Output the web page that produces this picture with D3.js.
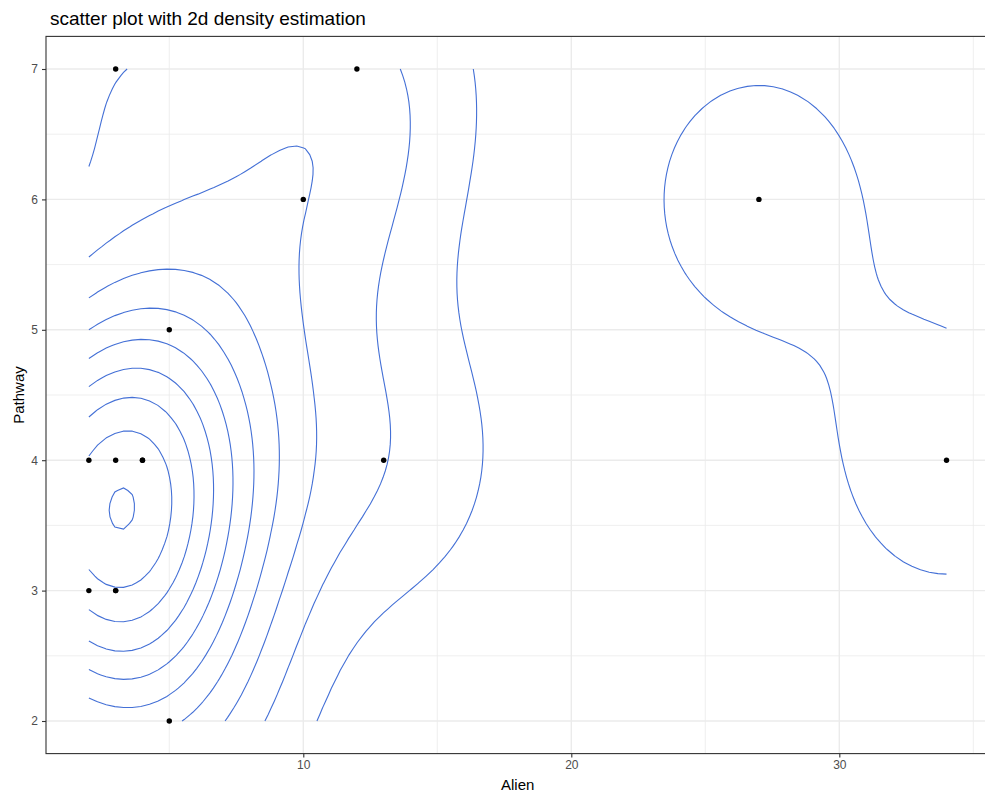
<!DOCTYPE html>
<html>
<head>
<meta charset="utf-8">
<script src="https://cdn.jsdelivr.net/npm/d3@7"></script>
<style>
  body { margin: 0; background: #fff; }
  svg { display: block; font-family: "Liberation Sans", Arial, sans-serif; }
</style>
</head>
<body>
<div id="chart"></div>
<script>
// data points (Alien, Pathway); (4,4) and (3,3) are overplotted twice
var alien   = [2, 3, 4, 4, 2, 3, 3, 5, 5, 3, 12, 10, 13, 27, 34];
var pathway = [4, 4, 4, 4, 3, 3, 3, 5, 2, 7, 7, 6, 4, 6, 4];

var xTicks = [10, 20, 30];
var xMinor = [5, 15, 25, 35];
var yTicks = [2, 3, 4, 5, 6, 7];
var yMinor = [2.5, 3.5, 4.5, 5.5, 6.5];

var W = 985, H = 796;
var panel = { left: 46, right: 989.4, top: 36.4, bottom: 753.6 };

var x = d3.scaleLinear().domain([0.4, 35.6]).range([panel.left, panel.right]);
var y = d3.scaleLinear().domain([1.75, 7.25]).range([panel.bottom, panel.top]);

// ---- 2d kernel density like MASS::kde2d ----
function quantile7(arr, p) {
  var s = arr.slice().sort(function(a, b) { return a - b; });
  var h = (s.length - 1) * p, lo = Math.floor(h);
  return s[lo] + (h - lo) * ((s[lo + 1] !== undefined ? s[lo + 1] : s[lo]) - s[lo]);
}
function bandwidthNrd(v) {
  var r = (quantile7(v, 0.75) - quantile7(v, 0.25)) / 1.34;
  return 4 * 1.06 * Math.min(d3.deviation(v), r) * Math.pow(v.length, -0.2);
}
function dnorm(u) { return Math.exp(-0.5 * u * u) / Math.sqrt(2 * Math.PI); }

var n = 100;
var xr = d3.extent(alien), yr = d3.extent(pathway);
var hx = bandwidthNrd(alien) / 4, hy = bandwidthNrd(pathway) / 4;
var gx = d3.range(n).map(function(i) { return xr[0] + i * (xr[1] - xr[0]) / (n - 1); });
var gy = d3.range(n).map(function(j) { return yr[0] + j * (yr[1] - yr[0]) / (n - 1); });

var dens = new Array(n * n);
for (var j = 0; j < n; j++) {
  for (var i = 0; i < n; i++) {
    var s = 0;
    for (var k = 0; k < alien.length; k++) {
      s += dnorm((gx[i] - alien[k]) / hx) * dnorm((gy[j] - pathway[k]) / hy);
    }
    dens[j * n + i] = s / (alien.length * hx * hy);
  }
}

// R's pretty()
function pretty(lo, hi, ndiv) {
  var h = 1.5, h5 = 0.5 + 1.5 * h;
  var cell = (hi - lo) / ndiv;
  var U = Math.pow(10, Math.floor(Math.log10(cell)));
  var unit = U;
  if (2 * U - cell < h * (cell - unit)) {
    unit = 2 * U;
    if (5 * U - cell < h5 * (cell - unit)) {
      unit = 5 * U;
      if (10 * U - cell < h * (cell - unit)) unit = 10 * U;
    }
  }
  var ns = Math.floor(lo / unit + 1e-7), nu = Math.ceil(hi / unit - 1e-7);
  var out = [];
  for (var q = ns; q <= nu; q++) out.push(q * unit);
  return out;
}

var zr = d3.extent(dens);
var levels = pretty(zr[0], zr[1], 10).filter(function(v) { return v > zr[0] && v < zr[1]; });

var contours = d3.contours().size([n, n]).thresholds(levels)(dens);

// turn closed rings into open lines: drop everything lying on the grid border
function onBorder(p) { return p[0] === 0 || p[0] === n || p[1] === 0 || p[1] === n; }
function toData(p) {
  var ix = Math.max(0, Math.min(n - 1, p[0] - 0.5));
  var iy = Math.max(0, Math.min(n - 1, p[1] - 0.5));
  return [xr[0] + ix * (xr[1] - xr[0]) / (n - 1), yr[0] + iy * (yr[1] - yr[0]) / (n - 1)];
}
var lines = [];
contours.forEach(function(c) {
  c.coordinates.forEach(function(poly) {
    poly.forEach(function(ring) {
      var pts = ring.slice(0, ring.length - 1), m = pts.length;
      var start = -1;
      for (var a = 0; a < m; a++) if (onBorder(pts[a])) { start = a; break; }
      if (start < 0) {
        lines.push(ring.map(toData));
        return;
      }
      var cur = [];
      for (var b = 1; b <= m; b++) {
        var p = pts[(start + b) % m];
        if (onBorder(p)) {
          if (cur.length > 1) lines.push(cur.map(toData));
          cur = [];
        } else {
          cur.push(p);
        }
      }
      if (cur.length > 1) lines.push(cur.map(toData));
    });
  });
});

// ---- drawing ----
var svg = d3.select("#chart").append("svg").attr("width", W).attr("height", H);

svg.append("rect").attr("x", panel.left).attr("y", panel.top)
  .attr("width", panel.right - panel.left).attr("height", panel.bottom - panel.top)
  .attr("fill", "#fff");

var grid = svg.append("g");
grid.selectAll(".xmin").data(xMinor).enter().append("line")
  .attr("x1", function(d) { return x(d); }).attr("x2", function(d) { return x(d); })
  .attr("y1", panel.top).attr("y2", panel.bottom)
  .attr("stroke", "#ebebeb").attr("stroke-width", 0.8);
grid.selectAll(".ymin").data(yMinor).enter().append("line")
  .attr("y1", function(d) { return y(d); }).attr("y2", function(d) { return y(d); })
  .attr("x1", panel.left).attr("x2", panel.right)
  .attr("stroke", "#ebebeb").attr("stroke-width", 0.8);
grid.selectAll(".xmaj").data(xTicks).enter().append("line")
  .attr("x1", function(d) { return x(d); }).attr("x2", function(d) { return x(d); })
  .attr("y1", panel.top).attr("y2", panel.bottom)
  .attr("stroke", "#ebebeb").attr("stroke-width", 1.4);
grid.selectAll(".ymaj").data(yTicks).enter().append("line")
  .attr("y1", function(d) { return y(d); }).attr("y2", function(d) { return y(d); })
  .attr("x1", panel.left).attr("x2", panel.right)
  .attr("stroke", "#ebebeb").attr("stroke-width", 1.4);

var line = d3.line().x(function(d) { return x(d[0]); }).y(function(d) { return y(d[1]); });
svg.append("g").selectAll("path").data(lines).enter().append("path")
  .attr("d", line).attr("fill", "none")
  .attr("stroke", "#4470d6").attr("stroke-width", 1.1);

svg.append("g").selectAll("circle").data(alien).enter().append("circle")
  .attr("cx", function(d) { return x(d); })
  .attr("cy", function(d, i) { return y(pathway[i]); })
  .attr("r", 2.7).attr("fill", "#000");

svg.append("rect").attr("x", panel.left).attr("y", panel.top)
  .attr("width", panel.right - panel.left).attr("height", panel.bottom - panel.top)
  .attr("fill", "none").attr("stroke", "#333").attr("stroke-width", 1.1);

// axes
var xAxis = d3.axisBottom(x).tickValues(xTicks).tickSize(4).tickPadding(3);
var gxA = svg.append("g").attr("transform", "translate(0," + panel.bottom + ")").call(xAxis);
var yAxis = d3.axisLeft(y).tickValues(yTicks).tickFormat(d3.format("d")).tickSize(4).tickPadding(4);
var gyA = svg.append("g").attr("transform", "translate(" + panel.left + ",0)").call(yAxis);
[gxA, gyA].forEach(function(g) {
  g.select(".domain").remove();
  g.selectAll(".tick line").attr("stroke", "#333").attr("stroke-width", 1.1);
  g.selectAll(".tick text").attr("fill", "#4d4d4d")
    .style("font-size", "12px").style("font-family", "Liberation Sans, Arial, sans-serif");
});

svg.append("text").attr("x", (panel.left + panel.right) / 2).attr("y", 790)
  .attr("text-anchor", "middle").style("font-size", "15px").text("Alien");
svg.append("text").attr("transform", "translate(23.5," + (panel.top + panel.bottom) / 2 + ") rotate(-90)")
  .attr("text-anchor", "middle").style("font-size", "15px").text("Pathway");
svg.append("text").attr("x", 50).attr("y", 25)
  .style("font-size", "19px").text("scatter plot with 2d density estimation");
</script>
</body>
</html>
